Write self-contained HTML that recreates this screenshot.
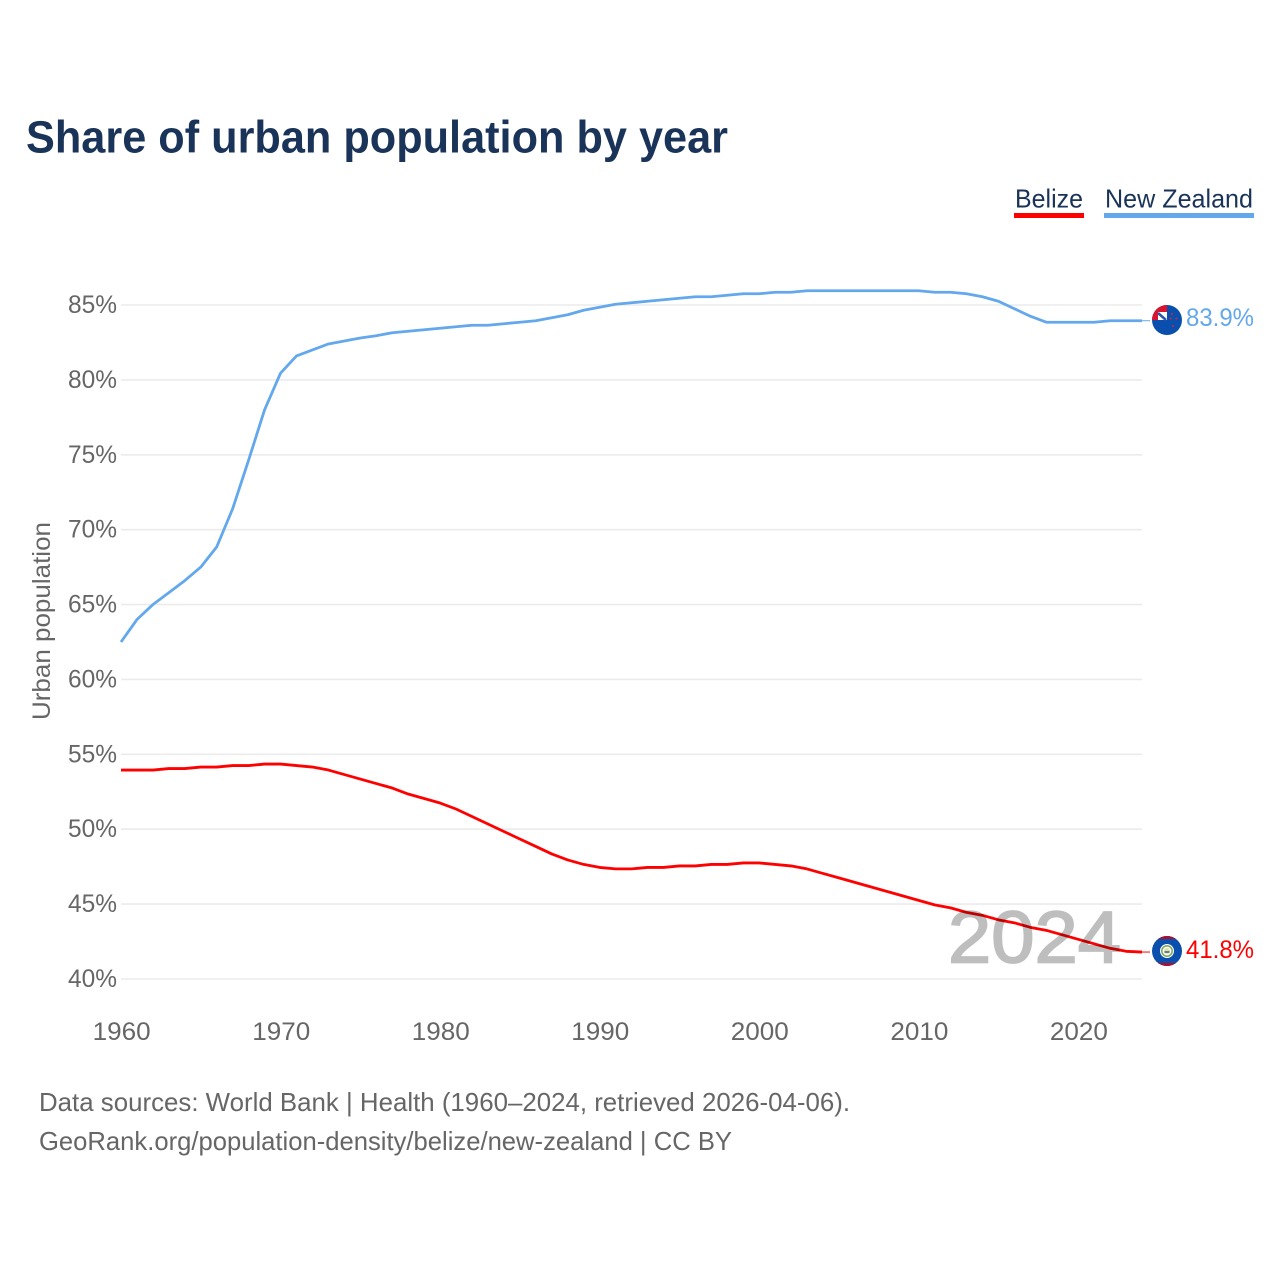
<!DOCTYPE html>
<html lang="en">
<head>
<meta charset="utf-8">
<title>Share of urban population by year</title>
<style>
html,body{margin:0;padding:0;background:#fff}
svg{display:block}
text{font-family:"Liberation Sans",sans-serif}
</style>
</head>
<body>
<svg id="chart" xmlns="http://www.w3.org/2000/svg" width="1280" height="1280" viewBox="0 0 1280 1280">
<defs>
<clipPath id="clip-nz"><circle cx="1167" cy="320" r="15"/></clipPath>
<clipPath id="clip-bz"><circle cx="1167" cy="951" r="15"/></clipPath>
</defs>
<rect width="1280" height="1280" fill="#fff"/>
<text x="26" y="152.5" font-size="45" font-weight="700" fill="#1a3358" textLength="702" lengthAdjust="spacingAndGlyphs">Share of urban population by year</text>
<g>
<text x="1015" y="207.5" font-size="26" fill="#1a3358" textLength="68" lengthAdjust="spacingAndGlyphs">Belize</text>
<rect x="1014" y="213" width="70" height="5" fill="#ff0000"/>
</g>
<g>
<text x="1105" y="207.5" font-size="26" fill="#1a3358" textLength="148" lengthAdjust="spacingAndGlyphs">New Zealand</text>
<rect x="1104" y="213" width="150" height="5" fill="#63a8ec"/>
</g>
<text transform="translate(50,621) rotate(-90)" text-anchor="middle" font-size="25" fill="#666" textLength="198" lengthAdjust="spacingAndGlyphs">Urban population</text>
<g id="grid"></g>
<g id="yticks"></g>
<g id="xticks"></g>
<g id="lines"></g>

<g clip-path="url(#clip-nz)">
<rect x="1152" y="305" width="30" height="30" fill="#0a4fae"/>
<rect x="1152" y="305" width="15" height="15" fill="#d8142f"/>
<rect x="1158" y="312" width="9" height="8" fill="#fff"/>
<path d="M1158 313 L1166 320" stroke="#2a56a8" stroke-width="2.5"/>
<circle cx="1172" cy="314" r="1" fill="#e0203a"/>
<circle cx="1170.5" cy="318.5" r="1" fill="#e0203a"/>
<circle cx="1176.5" cy="318.5" r="1" fill="#e0203a"/>
<circle cx="1173" cy="326" r="1" fill="#e0203a"/>
</g>
<g clip-path="url(#clip-bz)">
<rect x="1152" y="936" width="30" height="30" fill="#0a4fae"/>
<rect x="1152" y="936" width="30" height="3" fill="#a81030"/>
<rect x="1152" y="963" width="30" height="3" fill="#a81030"/>
<circle cx="1167" cy="951" r="7" fill="#fff"/>
<circle cx="1167" cy="951" r="5.2" fill="none" stroke="#7fa860" stroke-width="1.6"/>
<circle cx="1167" cy="951" r="3" fill="#e8e0a0"/>
<rect x="1164.5" y="951" width="5" height="2" fill="#5a7fa0"/>
</g>

<text x="1186" y="326" font-size="25" fill="#63a8ec" textLength="68" lengthAdjust="spacingAndGlyphs">83.9%</text>
<text x="1186" y="958" font-size="25" fill="#ff0000" textLength="68" lengthAdjust="spacingAndGlyphs">41.8%</text>
<text x="948" y="962.5" font-size="73" fill="#000" stroke="#000" stroke-width="1.8" opacity="0.25" textLength="173" lengthAdjust="spacingAndGlyphs">2024</text>
<text x="39" y="1111" font-size="26" fill="#666" textLength="811" lengthAdjust="spacingAndGlyphs">Data sources: World Bank | Health (1960–2024, retrieved 2026-04-06).</text>
<text x="39" y="1150" font-size="26" fill="#666" textLength="693" lengthAdjust="spacingAndGlyphs">GeoRank.org/population-density/belize/new-zealand | CC BY</text>
</svg>
<script>
const startYear = 1960;
const yTickValues = [40, 45, 50, 55, 60, 65, 70, 75, 80, 85];
const xTickYears = [1960, 1970, 1980, 1990, 2000, 2010, 2020];
const newZealandValues = [62.5,64.0,65.0,65.8,66.6,67.5,68.85,71.4,74.65,78.0,80.45,81.6,82.0,82.4,82.6,82.8,82.95,83.15,83.25,83.35,83.45,83.55,83.65,83.65,83.75,83.85,83.95,84.15,84.35,84.65,84.85,85.05,85.15,85.25,85.35,85.45,85.55,85.55,85.65,85.75,85.75,85.85,85.85,85.95,85.95,85.95,85.95,85.95,85.95,85.95,85.95,85.85,85.85,85.75,85.55,85.25,84.75,84.25,83.85,83.85,83.85,83.85,83.95,83.95,83.95];
const belizeValues = [53.95,53.95,53.95,54.05,54.05,54.15,54.15,54.25,54.25,54.35,54.35,54.25,54.15,53.95,53.65,53.35,53.05,52.75,52.35,52.05,51.75,51.35,50.85,50.35,49.85,49.35,48.85,48.35,47.95,47.65,47.45,47.35,47.35,47.45,47.45,47.55,47.55,47.65,47.65,47.75,47.75,47.65,47.55,47.35,47.05,46.75,46.45,46.15,45.85,45.55,45.25,44.95,44.75,44.45,44.25,43.95,43.75,43.45,43.25,42.95,42.65,42.35,42.05,41.85,41.8];

const NS = 'http://www.w3.org/2000/svg';
function xScale(year) { return 121 + (year - 1960) * (1142 - 121) / 64; }
function yScale(v) { return 979 - (v - 40) * (979 - 305) / 45; }

const grid = document.getElementById('grid');
const yticks = document.getElementById('yticks');
yTickValues.forEach(function (v) {
  const line = document.createElementNS(NS, 'line');
  line.setAttribute('x1', 121);
  line.setAttribute('x2', 1142);
  line.setAttribute('y1', yScale(v));
  line.setAttribute('y2', yScale(v));
  line.setAttribute('stroke', '#ebebeb');
  line.setAttribute('stroke-width', '1.6');
  
  
  grid.appendChild(line);
  const t = document.createElementNS(NS, 'text');
  t.setAttribute('x', 117);
  t.setAttribute('y', yScale(v) + 8);
  t.setAttribute('text-anchor', 'end');
  t.setAttribute('font-size', '25');
  t.setAttribute('fill', '#666');
  t.setAttribute('textLength', '49');
  t.setAttribute('lengthAdjust', 'spacingAndGlyphs');
  t.textContent = v + '%';
  
  
  yticks.appendChild(t);
});

const xticks = document.getElementById('xticks');
xTickYears.forEach(function (y) {
  const t = document.createElementNS(NS, 'text');
  t.setAttribute('x', xScale(y) + 0.7);
  t.setAttribute('y', 1040);
  t.setAttribute('text-anchor', 'middle');
  t.setAttribute('font-size', '25');
  t.setAttribute('fill', '#666');
  t.setAttribute('textLength', '58');
  t.setAttribute('lengthAdjust', 'spacingAndGlyphs');
  t.textContent = y;
  
  
  xticks.appendChild(t);
});

const lines = document.getElementById('lines');
function drawSeries(values, color, seriesName) {
  const pts = values.map(function (v, i) {
    return xScale(startYear + i).toFixed(2) + ',' + yScale(v).toFixed(2);
  });
  const p = document.createElementNS(NS, 'polyline');
  p.setAttribute('points', pts.join(' '));
  p.setAttribute('fill', 'none');
  p.setAttribute('stroke', color);
  p.setAttribute('stroke-width', '2.8');
  p.setAttribute('stroke-linejoin', 'round');
  
  
  lines.appendChild(p);
  const last = values[values.length - 1];
  const c = document.createElementNS(NS, 'line');
  c.setAttribute('x1', 1142);
  c.setAttribute('x2', 1150);
  c.setAttribute('y1', yScale(last));
  c.setAttribute('y2', yScale(last));
  c.setAttribute('stroke', color);
  c.setAttribute('stroke-width', '1');
  
  
  lines.appendChild(c);
}
drawSeries(newZealandValues, '#63a8ec', 'new-zealand-line');
drawSeries(belizeValues, '#ff0000', 'belize-line');
</script>
</body>
</html>
